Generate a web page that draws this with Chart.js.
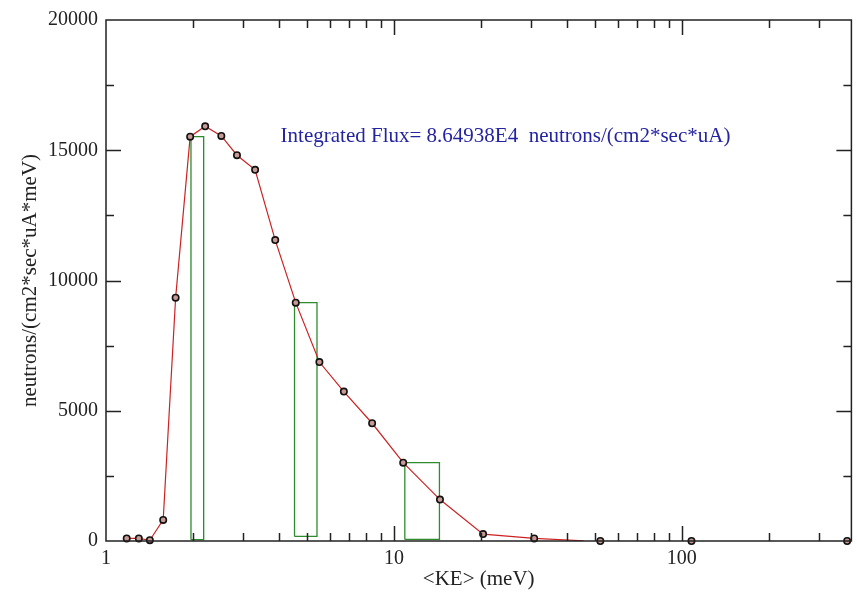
<!DOCTYPE html>
<html>
<head>
<meta charset="utf-8">
<script src="https://cdn.jsdelivr.net/npm/chart.js@4.4.0/dist/chart.umd.min.js"></script>
<style>
  html, body { margin: 0; padding: 0; background: #fff; }
  #wrap { width: 857px; height: 592px; }
</style>
</head>
<body>
<div id="wrap"><canvas id="fluxChart" width="857" height="592"></canvas></div>
<script>
// bin energies (meV) and flux per meV
const energy = [1.18, 1.30, 1.42, 1.58, 1.745, 1.96, 2.21, 2.515, 2.85, 3.295, 3.87, 4.56, 5.51, 6.70, 8.40, 10.77, 14.45, 20.4, 30.7, 52.1, 108, 375];
const flux = [100, 100, 30, 810, 9340, 15520, 15920, 15550, 14810, 14250, 11550, 9150, 6870, 5735, 4520, 3005, 1590, 265, 100, 0, 0, 0];

// the red curve stops a bit after 30 meV
const curveEnergy = [1.18, 1.30, 1.42, 1.58, 1.745, 1.96, 2.21, 2.515, 2.85, 3.295, 3.87, 4.56, 5.51, 6.70, 8.40, 10.77, 14.45, 20.4, 30.7, 45.6];
const curveFlux = [100, 100, 30, 810, 9340, 15520, 15920, 15550, 14810, 14250, 11550, 9150, 6870, 5735, 4520, 3005, 1590, 265, 100, 10];

// green boxes
const boxLeft = [1.973, 4.516, 10.91];
const boxRight = [2.184, 5.405, 14.39];
const boxTop = [15520, 9150, 3005];
const boxBottom = [50, 175, 60];

const xTickLabels = [1, 10, 100];
const yTickLabels = [0, 5000, 10000, 15000, 20000];

const annotation = 'Integrated Flux= 8.64938E4  neutrons/(cm2*sec*uA)';
const annoX = 4.04, annoY = 15530;

const serif = 'Liberation Serif';
const xMax = 388;

const pts = (xs, ys) => xs.map((v, i) => ({ x: v, y: ys[i] }));

const boxSets = boxLeft.map((l, i) => ({
    data: [
        { x: l, y: boxBottom[i] }, { x: l, y: boxTop[i] },
        { x: boxRight[i], y: boxTop[i] }, { x: boxRight[i], y: boxBottom[i] },
        { x: l, y: boxBottom[i] }
    ],
    showLine: true,
    borderColor: '#2e8b2e',
    borderWidth: 1.3,
    pointRadius: 0,
    fill: false
}));

// inward ticks on all four sides, frame, and the flux note
const frameTicks = {
    id: 'frameTicks',
    afterDraw(chart) {
        const { ctx, chartArea: a, scales: { x, y } } = chart;
        ctx.save();
        ctx.strokeStyle = '#222';
        ctx.lineWidth = 1.5;
        ctx.strokeRect(a.left, a.top, a.right - a.left, a.bottom - a.top);
        ctx.beginPath();
        for (let d = 1; d < xMax; d *= 10) {
            for (let m = 1; m < 10; m++) {
                const v = d * m;
                if (v <= 1 || v >= xMax) continue;
                const len = m === 1 ? 15 : 8;
                const px = Math.round(x.getPixelForValue(v)) + 0.5;
                ctx.moveTo(px, a.bottom); ctx.lineTo(px, a.bottom - len);
                ctx.moveTo(px, a.top); ctx.lineTo(px, a.top + len);
            }
        }
        for (let v = 2500; v < 20000; v += 2500) {
            const len = v % 5000 === 0 ? 15 : 8;
            const py = Math.round(y.getPixelForValue(v)) + 0.5;
            ctx.moveTo(a.left, py); ctx.lineTo(a.left + len, py);
            ctx.moveTo(a.right, py); ctx.lineTo(a.right - len, py);
        }
        ctx.stroke();

        ctx.fillStyle = '#2424a0';
        ctx.font = '21px "' + serif + '"';
        ctx.textAlign = 'left';
        ctx.textBaseline = 'middle';
        ctx.fillText(annotation, x.getPixelForValue(annoX), y.getPixelForValue(annoY));
        ctx.restore();
    }
};

new Chart(document.getElementById('fluxChart').getContext('2d'), {
    type: 'scatter',
    data: {
        datasets: [
            {
                data: pts(energy, flux),
                showLine: false,
                pointStyle: 'circle',
                pointRadius: 3.2,
                pointBorderWidth: 1.6,
                pointBorderColor: '#111',
                pointBackgroundColor: '#c89a96',
                clip: false
            },
            {
                data: pts(curveEnergy, curveFlux),
                showLine: true,
                borderColor: '#cc2222',
                borderWidth: 1.2,
                pointRadius: 0,
                fill: false
            },
            ...boxSets
        ]
    },
    options: {
        responsive: false,
        animation: false,
        layout: { padding: { top: 14, right: 1, left: 0, bottom: 0 } },
        plugins: {
            legend: { display: false },
            tooltip: { enabled: false }
        },
        scales: {
            x: {
                type: 'logarithmic',
                min: 1,
                max: xMax,
                grid: { display: false, drawTicks: false },
                border: { display: false },
                afterBuildTicks: s => { s.ticks = xTickLabels.map(v => ({ value: v })); },
                afterFit: s => { s.height = 51; },
                ticks: {
                    font: { family: serif, size: 20 },
                    color: '#222',
                    padding: 6,
                    maxRotation: 0,
                    autoSkip: false,
                    callback: v => String(v)
                },
                title: {
                    display: true,
                    text: '<KE> (meV)',
                    font: { family: serif, size: 21, lineHeight: 1.2 },
                    color: '#222',
                    padding: 0
                }
            },
            y: {
                min: 0,
                max: 20000,
                grid: { display: false, drawTicks: false },
                border: { display: false },
                afterBuildTicks: s => { s.ticks = yTickLabels.map(v => ({ value: v })); },
                afterFit: s => { s.width = 106; },
                ticks: {
                    font: { family: serif, size: 20 },
                    color: '#222',
                    padding: 8,
                    callback: v => String(v)
                },
                title: {
                    display: true,
                    text: 'neutrons/(cm2*sec*uA*meV)',
                    font: { family: serif, size: 21, lineHeight: 1.2 },
                    color: '#222',
                    padding: { top: 18, bottom: 0 }
                }
            }
        }
    },
    plugins: [frameTicks]
});
</script>
</body>
</html>
